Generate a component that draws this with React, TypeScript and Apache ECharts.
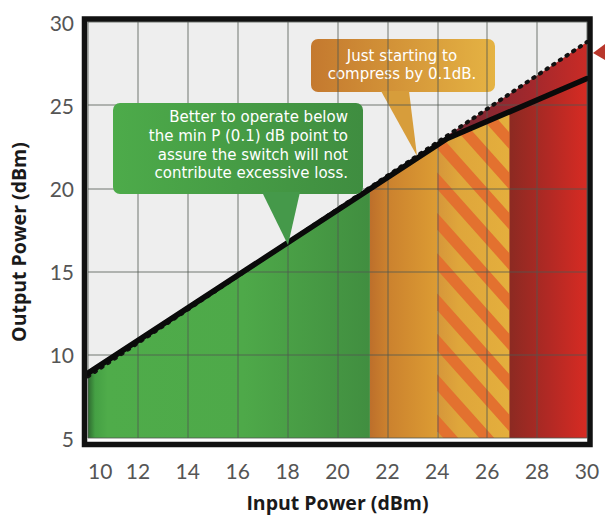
import React, { useEffect, useRef } from "react";
import * as echarts from "echarts";

// ---- data ----
const SOLID_X = [10, 24.4, 30];
const SOLID_Y = [8.9, 23.0, 26.6];
const DASH_X = [10, 30];
const DASH_Y = [8.7, 28.8];
const ZONE_EDGES = [10, 21.3, 24.0, 26.9, 30]; // green | orange | hatched | red
const X_MIN = 10, X_MAX = 30, X_STEP = 2;
const Y_MIN = 5, Y_MAX = 30, Y_STEP = 5;
const X_NAME = "Input Power (dBm)";
const Y_NAME = "Output Power (dBm)";
const GREEN_NOTE = [
  "Better to operate below",
  "the min P (0.1) dB point to",
  "assure the switch will not",
  "contribute excessive loss.",
];
const ORANGE_NOTE = ["Just starting to", "compress by 0.1dB."];

// ---- helpers ----
function interp(xs: number[], ys: number[], x: number) {
  for (let i = 0; i < xs.length - 1; i++) {
    if (x >= xs[i] && x <= xs[i + 1]) {
      const t = (x - xs[i]) / (xs[i + 1] - xs[i]);
      return ys[i] + t * (ys[i + 1] - ys[i]);
    }
  }
  return x < xs[0] ? ys[0] : ys[ys.length - 1];
}
function segment(xs: number[], ys: number[], a: number, b: number) {
  const pts: number[][] = [[a, interp(xs, ys, a)]];
  for (let i = 0; i < xs.length; i++) if (xs[i] > a && xs[i] < b) pts.push([xs[i], ys[i]]);
  pts.push([b, interp(xs, ys, b)]);
  return pts;
}
function clipPoly(subject: number[][], clip: number[][]) {
  let area = 0;
  for (let i = 0; i < clip.length; i++) {
    const a = clip[i], b = clip[(i + 1) % clip.length];
    area += a[0] * b[1] - b[0] * a[1];
  }
  const sgn = area > 0 ? 1 : -1;
  let out = subject;
  for (let i = 0; i < clip.length && out.length; i++) {
    const A = clip[i], B = clip[(i + 1) % clip.length];
    const side = (p: number[]) => (B[0] - A[0]) * (p[1] - A[1]) - (B[1] - A[1]) * (p[0] - A[0]);
    const input = out;
    out = [];
    for (let j = 0; j < input.length; j++) {
      const P = input[j], Q = input[(j + 1) % input.length];
      const dp = side(P) * sgn, dq = side(Q) * sgn;
      const inter = () => {
        const t = dp / (dp - dq);
        return [P[0] + t * (Q[0] - P[0]), P[1] + t * (Q[1] - P[1])];
      };
      if (dp >= 0) {
        out.push(P);
        if (dq < 0) out.push(inter());
      } else if (dq >= 0) out.push(inter());
    }
  }
  return out;
}
const hGrad = (stops: [number, string][]) =>
  new echarts.graphic.LinearGradient(0, 0, 1, 0, stops.map(([offset, color]) => ({ offset, color })));

const FONT = "Lato, 'Open Sans', sans-serif";
const NOTE_FONT = "'DejaVu Sans', sans-serif";
const TITLE_FONT = "'Open Sans', sans-serif";

function noteLines(lines: string[], x: number, yFirst: number, step: number, align: string, z: number) {
  return lines.map((line, i) => ({
    type: "text",
    z,
    style: {
      text: line,
      x,
      y: yFirst + i * step,
      fill: "#ffffff",
      font: `15px ${NOTE_FONT}`,
      fontSize: 15,
      fontFamily: NOTE_FONT,
      align,
      textAlign: align,
      verticalAlign: "middle",
      textVerticalAlign: "middle",
    },
  }));
}

export default function App() {
  const ref = useRef<HTMLDivElement>(null);
  useEffect(() => {
    if (!ref.current) return;
    const chart = echarts.init(ref.current, undefined, { renderer: "svg" });
    const kinkX = SOLID_X[1];
    const areaSeries = (data: number[][], stops: [number, string][], z = 2) => ({
      type: "line",
      data,
      showSymbol: false,
      symbol: "none",
      lineStyle: { width: 0 },
      areaStyle: { color: hGrad(stops), opacity: 1, origin: "start" },
      z,
      silent: true,
    });

    const option: any = {
      animation: false,
      backgroundColor: "#ffffff",
      grid: { left: 87, right: 18, top: 22, bottom: 75, show: true, backgroundColor: "#eeeeee", borderWidth: 0 },
      xAxis: {
        type: "value",
        min: X_MIN,
        max: X_MAX,
        interval: X_STEP,
        z: 5,
        axisLine: { show: false },
        axisTick: { show: false },
        axisLabel: { margin: 22, fontSize: 21, color: "#555", fontFamily: FONT, alignMinLabel: "left" },
        splitLine: { show: true, lineStyle: { color: "rgba(80,88,80,0.4)", width: 2 } },
        name: X_NAME,
        nameLocation: "middle",
        nameGap: 54,
        nameTextStyle: { fontFamily: TITLE_FONT, fontWeight: "bold", fontSize: 19.5, color: "#1a1a1a" },
      },
      yAxis: {
        type: "value",
        min: Y_MIN,
        max: Y_MAX,
        interval: Y_STEP,
        z: 5,
        axisLine: { show: false },
        axisTick: { show: false },
        axisLabel: { margin: 14, fontSize: 21, color: "#555", fontFamily: FONT },
        splitLine: { show: true, lineStyle: { color: "rgba(80,88,80,0.4)", width: 2 } },
        name: Y_NAME,
        nameLocation: "middle",
        nameGap: 60,
        nameTextStyle: { fontFamily: TITLE_FONT, fontWeight: "bold", fontSize: 19.5, color: "#1a1a1a", padding: [0, 24, 0, 0] },
      },
      series: [
        areaSeries(segment(DASH_X, DASH_Y, kinkX, X_MAX), [[0, "#742634"], [0.6, "#a2282c"], [1, "#c92b26"]], 1),
        areaSeries(segment(SOLID_X, SOLID_Y, ZONE_EDGES[0], ZONE_EDGES[1]), [
          [0, "#2e6a30"], [0.025, "#45a044"], [0.07, "#4fac4a"], [0.55, "#4ea949"], [1, "#418e40"],
        ]),
        areaSeries(segment(SOLID_X, SOLID_Y, ZONE_EDGES[1], ZONE_EDGES[2]), [[0, "#bd6f2b"], [0.25, "#cb812e"], [1, "#dc9c33"]]),
        {
          type: "custom",
          data: [[ZONE_EDGES[2], ZONE_EDGES[3]]],
          z: 2,
          silent: true,
          renderItem: (params: any, api: any) => {
            const x0 = api.value(0), x1 = api.value(1);
            const top = segment(SOLID_X, SOLID_Y, x0, x1).map((p) => api.coord(p));
            const poly = [...top, api.coord([x1, Y_MIN]), api.coord([x0, Y_MIN])];
            const xs = poly.map((p) => p[0]), ys = poly.map((p) => p[1]);
            const minX = Math.min(...xs), maxX = Math.max(...xs), minY = Math.min(...ys), maxY = Math.max(...ys);
            const h = maxY - minY, k = 1.12, P = 36, W = 15;
            const children: any[] = [
              { type: "polygon", shape: { points: poly }, style: { fill: hGrad([[0, "#d6963a"], [0.3, "#dfa63b"], [1, "#e4af3d"]]) } },
            ];
            for (let s = minX - h / k - P + 6; s < maxX; s += P) {
              const band = [[s, minY], [s + W, minY], [s + W + h / k, maxY], [s + h / k, maxY]];
              const c = clipPoly(band, poly);
              if (c.length >= 3) children.push({ type: "polygon", shape: { points: c }, style: { fill: "#e3712f" } });
            }
            return { type: "group", children };
          },
        },
        areaSeries(segment(SOLID_X, SOLID_Y, ZONE_EDGES[3], ZONE_EDGES[4]), [[0, "#8c2a22"], [0.5, "#b12924"], [1, "#d72b23"]]),
        {
          type: "line",
          data: DASH_X.map((x, i) => [x, DASH_Y[i]]),
          showSymbol: false,
          symbol: "none",
          lineStyle: { color: "#111111", width: 4, type: [1.5, 6.5], cap: "round" },
          z: 9,
          silent: true,
        },
        {
          type: "line",
          data: SOLID_X.map((x, i) => [x, SOLID_Y[i]]),
          showSymbol: false,
          symbol: "none",
          lineStyle: { color: "#0a0a0a", width: 5.5, join: "round", cap: "round" },
          z: 10,
          silent: true,
        },
      ],
      graphic: [
        // orange note (grid shows through)
        {
          type: "group",
          z: 3,
          children: [
            { type: "rect", z: 3, shape: { x: 311, y: 39, width: 184, height: 53, r: 7 }, style: { fill: hGrad([[0, "#c4792f"], [1, "#e5b343"]]) } },
            { type: "polygon", z: 3, shape: { points: [[381, 91], [409, 91], [417, 156]] }, style: { fill: "#d79d3b" } },
            ...noteLines(ORANGE_NOTE, 402, 55.5, 18.5, "center", 4),
          ],
        },
        // green note
        {
          type: "group",
          z: 20,
          children: [
            { type: "rect", z: 20, shape: { x: 113, y: 103, width: 250, height: 91, r: 7 }, style: { fill: hGrad([[0, "#4dab4a"], [1, "#3f8d40"]]) } },
            { type: "polygon", z: 20, shape: { points: [[262, 192], [300, 192], [288, 245]] }, style: { fill: "#45994a" } },
            ...noteLines(GREEN_NOTE, 348, 117, 18.8, "right", 21),
          ],
        },
        // pointer of an off-page note
        { type: "polygon", z: 90, shape: { points: [[593, 53], [605, 44], [605, 60]] }, style: { fill: "#b9372c" } },
        // plot frame
        {
          type: "rect",
          z: 100,
          shape: { x: 84.5, y: 19, width: 505.5, height: 425.5 },
          style: { fill: "none", stroke: "#111111", lineWidth: 5.5 },
        },
      ],
    };
    chart.setOption(option);
    return () => chart.dispose();
  }, []);
  return <div ref={ref} style={{ position: "fixed", left: 0, top: 0, width: 605, height: 517 }} />;
}
